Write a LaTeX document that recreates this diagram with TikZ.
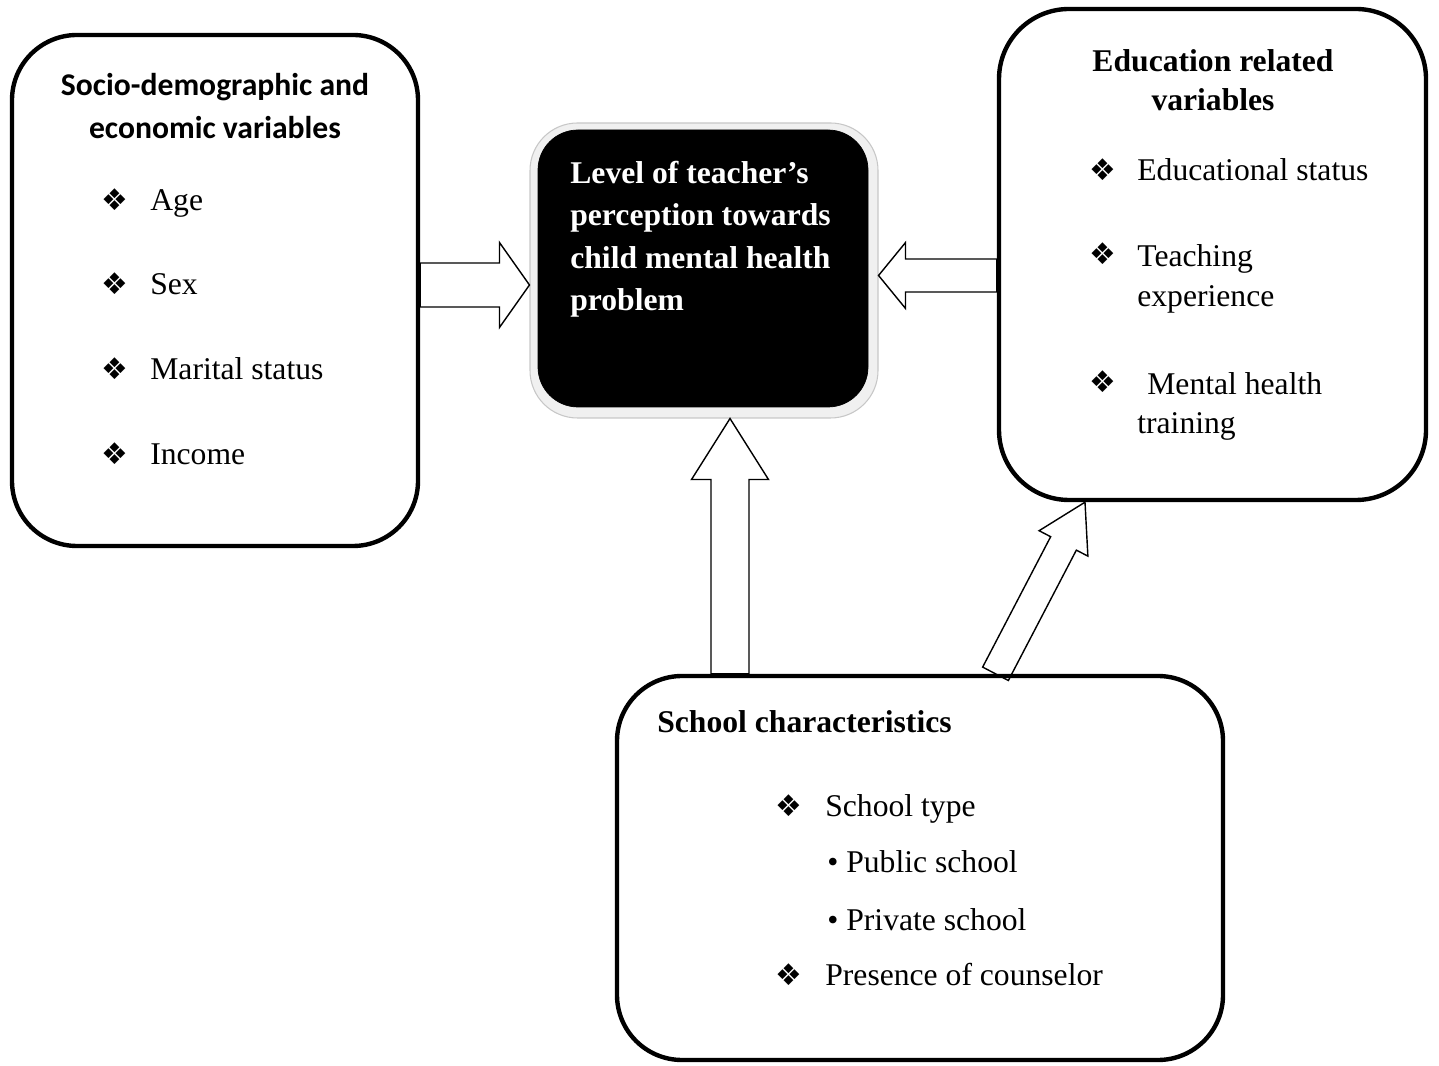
\documentclass[tikz,border=0pt]{standalone}
\usepackage{fontspec}
\setmainfont{Liberation Serif}
\newfontfamily\calibri{Carlito}
\newfontfamily\dejavu{DejaVu Sans}
\usetikzlibrary{calc}

% hollow block arrow: tail, tip, half shaft width, half head width, head length
\newcommand{\fatarrow}[5]{%
    \coordinate (hb) at ($(#2)!#5!(#1)$);
    \draw[blockarrow] ($(#1)!#3!90:(#2)$) -- ($(hb)!#3!90:(#2)$) -- ($(hb)!#4!90:(#2)$)
        -- (#2) -- ($(hb)!#4!-90:(#2)$) -- ($(hb)!#3!-90:(#2)$) -- ($(#1)!#3!-90:(#2)$) -- cycle;
}

\begin{document}
\begin{tikzpicture}[
    bigbox/.style={draw, line width=2.5pt, fill=white},
    itemtext/.style={anchor=base west, inner sep=0pt, align=left, font=\fontsize{18}{22.7}\selectfont},
    boldtext/.style={inner sep=0pt, align=left, font=\fontsize{18}{24.2}\selectfont\bfseries},
    sym/.style={anchor=base, inner sep=0pt, font=\dejavu\fontsize{17}{17}\selectfont},
    blockarrow/.style={line width=0.8pt, line join=miter}
]
\useasboundingbox (0,0) rectangle (28.78,21.3);

% Boxes
    \node[bigbox, rounded corners=1.3cm, minimum width=8.12cm, minimum height=10.22cm] (socio) at (4.3,15.49) {};
    \node[bigbox, rounded corners=1.4cm, minimum width=8.54cm, minimum height=9.82cm] (edu) at (24.25,16.21) {};
    \node[bigbox, rounded corners=1.3cm, minimum width=12.12cm, minimum height=7.68cm] (school) at (18.4,3.94) {};

% Central box and its shadow
    \node[draw=black!22, fill=black!6, line width=0.6pt, rounded corners=0.95cm, minimum width=6.96cm, minimum height=5.9cm] (percshade) at (14.08,15.89) {};
    \node[draw, fill=black, rounded corners=0.8cm, minimum width=6.6cm, minimum height=5.54cm] (perc) at (14.06,15.93) {};
    % base of a multi-line node is its last line
    \node[boldtext, anchor=base west, text=white] (perctext) at (11.4,15.08) {Level of teacher’s\\perception towards\\child mental health\\problem};

% Socio-demographic box
    \node[anchor=base, inner sep=0pt, align=center, font=\calibri\fontsize{18}{24.9}\selectfont\bfseries] (sociotitle) at (4.3,18.52) {Socio-demographic and\\economic variables};
    \foreach \txt/\y/\n in {Age/17.09/age, Sex/15.4/sex, Marital status/13.7/marital, Income/12.0/income} {
        \node[sym] (sym\n) at (2.3,\y) {❖};
        \node[itemtext] (\n) at (3.0,\y) {\txt};
    }

% Education box
    \node[boldtext, anchor=base, align=center, font=\fontsize{18}{22.7}\selectfont\bfseries] (edutitle) at (24.26,19.08) {Education related\\variables};
    \foreach \txt/\y/\ty/\n in {Educational status/17.68/17.68/edstatus, Teaching\\experience/16.0/15.17/teaching, \hspace*{0.2cm}Mental health\\training/13.44/12.62/training} {
        \node[sym] (sym\n) at (22.06,\y) {❖};
        \node[itemtext] (\n) at (22.74,\ty) {\txt};
    }

% School box
    \node[boldtext, anchor=base west] (schooltitle) at (13.14,6.64) {School characteristics};
    \node[sym] (symtype) at (15.78,4.96) {❖};
    \node[itemtext] (schooltype) at (16.5,4.96) {School type};
    \node[itemtext] (public) at (16.54,3.84) {\textbullet\ Public school};
    \node[itemtext] (private) at (16.54,2.7) {\textbullet\ Private school};
    \node[sym] (symcounsel) at (15.78,1.6) {❖};
    \node[itemtext] (counselor) at (16.5,1.6) {Presence of counselor};

% Arrows
    \coordinate (socioout) at ($(socio.east)+(0,0.11)$);
    \coordinate (percleft) at (percshade.west |- socioout);
    \fatarrow{socioout}{percleft}{0.44cm}{0.85cm}{0.6cm}

    \coordinate (eduin) at ($(edu.west)+(0,-0.42)$);
    \coordinate (percright) at (percshade.east |- eduin);
    \fatarrow{eduin}{percright}{0.33cm}{0.66cm}{0.54cm}

    \coordinate (schoolup) at ($(school.north)+(-3.8,0)$);
    \coordinate (percdown) at (percshade.south -| schoolup);
    \fatarrow{schoolup}{percdown}{0.38cm}{0.77cm}{1.22cm}

    \coordinate (schooldiag) at ($(school.north)+(1.51,0)$);
    \coordinate (edudiag) at ($(edu.south)+(-2.55,0)$);
    \fatarrow{schooldiag}{edudiag}{0.29cm}{0.55cm}{0.93cm}

\end{tikzpicture}
\end{document}
